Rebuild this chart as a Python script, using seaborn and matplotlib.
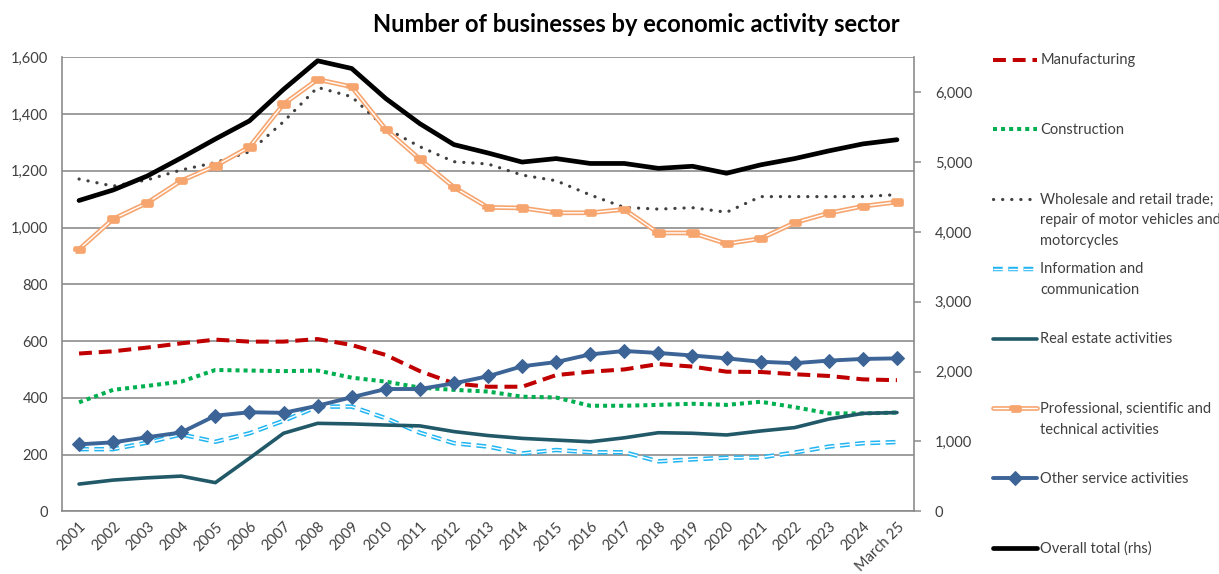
import numpy as np
import matplotlib
matplotlib.use("Agg")
import matplotlib.pyplot as plt
import matplotlib.patheffects as pe
from matplotlib.legend_handler import HandlerLine2D
from matplotlib.ticker import FuncFormatter
import seaborn as sns

periods = ['2001', '2002', '2003', '2004', '2005', '2006', '2007', '2008', '2009', '2010',
           '2011', '2012', '2013', '2014', '2015', '2016', '2017', '2018', '2019', '2020',
           '2021', '2022', '2023', '2024', 'March 25']

manufacturing = [556, 564, 577, 592, 605, 598, 598, 607, 586, 551, 494, 451, 439, 439, 480,
                 492, 500, 519, 510, 492, 491, 483, 477, 465, 462]
construction = [384, 428, 442, 457, 498, 496, 494, 496, 471, 457, 436, 428, 422, 404, 401,
                372, 372, 375, 379, 375, 386, 367, 345, 345, 348]
wholesale_retail = [1171, 1146, 1168, 1203, 1229, 1267, 1373, 1494, 1461, 1350, 1285, 1232, 1224,
                    1185, 1165, 1115, 1071, 1065, 1070, 1054, 1109, 1109, 1109, 1109, 1116]
information = [219, 219, 242, 271, 245, 275, 319, 369, 369, 328, 277, 240, 228, 204, 216,
               208, 208, 176, 183, 189, 190, 207, 228, 240, 244]
real_estate = [96, 110, 118, 124, 101, 187, 275, 310, 308, 304, 301, 281, 267, 257, 251,
               245, 259, 277, 275, 269, 283, 295, 325, 345, 348]
professional = [923, 1030, 1087, 1165, 1217, 1284, 1435, 1522, 1496, 1346, 1241, 1142, 1071,
                1069, 1052, 1052, 1064, 981, 981, 943, 961, 1017, 1051, 1075, 1090]
other_services = [236, 243, 261, 278, 337, 349, 347, 372, 402, 431, 431, 451, 476, 511, 526,
                  553, 565, 558, 549, 539, 527, 522, 531, 537, 539]
overall_total = [4450, 4600, 4800, 5060, 5330, 5590, 6040, 6450, 6340, 5910, 5550, 5250, 5130,
                 5000, 5050, 4980, 4980, 4910, 4940, 4840, 4960, 5050, 5160, 5260, 5320]

labels = ['Manufacturing',
          'Construction',
          'Wholesale and retail trade;\nrepair of motor vehicles and\nmotorcycles',
          'Information and\ncommunication',
          'Real estate activities',
          'Professional, scientific and\ntechnical activities',
          'Other service activities',
          'Overall total (rhs)']

sns.set_theme(style="white")
plt.rcParams['font.family'] = ['Lato', 'DejaVu Sans']

TEXT = '#404040'
GRID = '#8c8c8c'
FS = 10.5

fig = plt.figure(figsize=(12.19, 5.74), dpi=100)
ax = fig.add_axes([62 / 1219, 62.7 / 574, 852 / 1219, 454 / 574])
ax2 = ax.twinx()

x = np.arange(len(periods))

sns.lineplot(x=x, y=manufacturing, ax=ax, color='#c00000', lw=2.9,
             linestyle=(0, (3.2, 1.7)), label=labels[0], legend=False)
sns.lineplot(x=x, y=construction, ax=ax, color='#00b050', lw=2.9,
             linestyle=(0, (1, 1)), label=labels[1], legend=False)
sns.lineplot(x=x, y=wholesale_retail, ax=ax, color='#404040', lw=2.3,
             linestyle=(0, (0.05, 2.8)), dash_capstyle='round', label=labels[2], legend=False)
sns.lineplot(x=x, y=information, ax=ax, color='white', lw=1.0,
             linestyle=(0, (7, 4)),
             path_effects=[pe.Stroke(linewidth=3.2, foreground='#21b5f2'), pe.Normal()],
             label=labels[3], legend=False)
sns.lineplot(x=x, y=real_estate, ax=ax, color='#215968', lw=2.6, label=labels[4], legend=False)
rect = [(-1, -0.4), (1, -0.4), (1, 0.4), (-1, 0.4), (-1, -0.4)]
sns.lineplot(x=x, y=professional, ax=ax, color='white', lw=1.0,
             marker=rect, markersize=6, markerfacecolor='#f7a56f',
             markeredgecolor='#f7a56f', markeredgewidth=0.8,
             path_effects=[pe.Stroke(linewidth=3.4, foreground='#f7a56f'), pe.Normal()],
             label=labels[5], legend=False)
sns.lineplot(x=x, y=other_services, ax=ax, color='#3d6496', lw=2.8,
             marker='D', markersize=7, markerfacecolor='#3d6496',
             markeredgecolor='#3d6496', label=labels[6], legend=False)
sns.lineplot(x=x, y=overall_total, ax=ax2, color='black', lw=3.4,
             label=labels[7], legend=False)

ax.set_xlim(-0.5, len(periods) - 0.5)
ax.set_ylim(0, 1600)
ax.set_yticks(np.arange(0, 1601, 200))
ax2.set_ylim(0, 6500)
ax2.set_yticks(np.arange(0, 6001, 1000))
comma = FuncFormatter(lambda v, p: f'{int(v):,}')
ax.yaxis.set_major_formatter(comma)
ax2.yaxis.set_major_formatter(comma)

ax.set_xticks(x)
ax.set_xticklabels(periods, rotation=45, ha='right', rotation_mode='anchor')
ax.set_xlabel('')
ax.set_ylabel('')
ax2.set_ylabel('')

ax.yaxis.grid(True, color=GRID, lw=1.2)
ax.xaxis.grid(False)
ax.set_axisbelow(True)
ax2.grid(False)

ax.tick_params(axis='x', length=0, pad=6, labelsize=FS, labelcolor=TEXT)
ax.tick_params(axis='y', length=0, pad=10, labelsize=FS, labelcolor=TEXT)
ax2.tick_params(axis='y', length=5, width=1.1, color=GRID, pad=10, labelsize=FS,
                labelcolor=TEXT, direction='out')

for a in (ax, ax2):
    for s in a.spines.values():
        s.set_visible(False)
ax.spines['left'].set_visible(True)
ax.spines['bottom'].set_visible(True)
ax2.spines['right'].set_visible(True)
for s in (ax.spines['left'], ax.spines['bottom'], ax2.spines['right']):
    s.set_color(GRID)
    s.set_linewidth(1.2)

fig.text(0.522, 0.958, 'Number of businesses by economic activity sector',
         ha='center', va='center', fontsize=17, fontweight='bold', color='black')


# legend: handle sits on the first line of each entry, as in Excel
class TopLineHandler(HandlerLine2D):
    def __init__(self, shift, **kw):
        super().__init__(**kw)
        self.shift = shift

    def create_artists(self, legend, orig_handle, xdescent, ydescent, width, height, fontsize, trans):
        arts = super().create_artists(legend, orig_handle, xdescent, ydescent, width, height,
                                      fontsize, trans)
        for a in arts:
            a.set_ydata(np.asarray(a.get_ydata(), dtype=float) + self.shift)
        return arts


handles = ax.get_lines() + ax2.get_lines()
# every entry but the last gets three text lines so the slots are even
padded = [lab + '\n' * (2 - lab.count('\n')) for lab in labels[:-1]] + [labels[-1]]
top = TopLineHandler(shift=15.5)
hmap = {h: top for h in handles[:-1]}
hmap[handles[-1]] = HandlerLine2D()
LINESP = 1.6
leg = fig.legend(handles, padded, loc='upper left', bbox_to_anchor=(0.8146, 0.9075),
                 frameon=False, fontsize=FS, handlelength=3.0, handletextpad=0.25,
                 borderpad=0, borderaxespad=0, labelspacing=1.0, labelcolor=TEXT,
                 handler_map=hmap)
for t in leg.get_texts():
    t.set_linespacing(LINESP)

fig.savefig('out.png', dpi=100)
